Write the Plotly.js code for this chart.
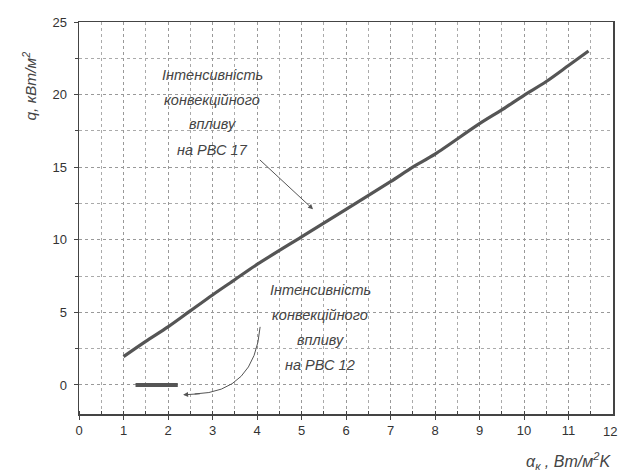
<!DOCTYPE html>
<html>
<head>
<meta charset="utf-8">
<script src="https://cdn.plot.ly/plotly-3.0.1.min.js"></script>
<style>body{margin:0;background:#fff}#chart{width:619px;height:476px}</style>
</head>
<body>
<div id="chart"></div>
<script>
// RBC 17 convective intensity curve
const alphaRBC17 = [1.0, 1.5, 2.0, 2.5, 3.0, 3.5, 4.0, 5.0, 6.0, 7.0, 7.5, 8.0, 9.0, 9.5, 10.0, 10.5, 11.0, 11.45];
const qRBC17     = [1.95, 3.0, 4.0, 5.1, 6.2, 7.25, 8.3, 10.2, 12.1, 14.0, 15.0, 15.9, 18.0, 18.95, 19.95, 20.9, 22.0, 23.0];
// RBC 12 convective intensity (short segment)
const alphaRBC12 = [1.27, 2.22];
const qRBC12     = [0, 0];
const xTickVals = [0,1,2,3,4,5,6,7,8,9,10,11];
const xLastTick = 12;
const yTickVals = [0,5,10,15,20,25];
const label17 = ['Інтенсивність', 'конвекційного', 'впливу', 'на РВС 17'];
const label12 = ['Інтенсивність', 'конвекційного', 'впливу', 'на РВС 12'];

const ink = '#444';
const traces = [
  {x: alphaRBC17, y: qRBC17, mode: 'lines', line: {color: '#555', width: 3.2, shape: 'spline', smoothing: 0.8}, hoverinfo: 'skip'},
  {x: alphaRBC12, y: qRBC12, mode: 'lines', line: {color: '#555', width: 4}, hoverinfo: 'skip'}
];

const txtFont = {family: 'Liberation Sans, Arial, sans-serif', size: 14.5, color: ink, style: 'italic'};
const tickFont = {family: 'Liberation Sans, Arial, sans-serif', size: 13, color: '#333'};
const annotations = [];
const block17Y = [21.35, 19.6, 18.0, 16.2];
label17.forEach((t, i) => annotations.push({x: 2.99, y: block17Y[i], xref: 'x', yref: 'y', text: t, showarrow: false, font: txtFont}));
const block12Y = [6.55, 4.8, 3.1, 1.4];
label12.forEach((t, i) => annotations.push({x: 5.42, y: block12Y[i], xref: 'x', yref: 'y', text: t, showarrow: false, font: txtFont}));
// straight arrow for RBC 17
annotations.push({x: 5.26, y: 12.1, ax: 4.03, ay: 15.6, xref: 'x', yref: 'y', axref: 'x', ayref: 'y', text: '', showarrow: true, arrowhead: 2, arrowsize: 1, arrowwidth: 1, arrowcolor: '#555'});
// arrow head for RBC 12 curved arrow
annotations.push({x: 2.34, y: -0.68, ax: 2.75, ay: -0.6, xref: 'x', yref: 'y', axref: 'x', ayref: 'y', text: '', showarrow: true, arrowhead: 2, arrowsize: 1, arrowwidth: 1, arrowcolor: '#555'});
// last x tick label at the page edge
annotations.push({xref: 'paper', x: 1, xanchor: 'right', xshift: 6, yref: 'paper', y: 0, yanchor: 'top', yshift: -8, text: String(xLastTick), showarrow: false, font: tickFont});
// axis titles
annotations.push({xref: 'paper', yref: 'paper', x: -0.115, y: 0.93, text: 'q, кВт/м<sup>2</sup>', textangle: -90, showarrow: false,
  font: {family: 'Liberation Sans, Arial, sans-serif', size: 15.5, color: ink, style: 'italic'}});
annotations.push({xref: 'paper', yref: 'paper', x: 1.0, xanchor: 'right', y: -0.12, yanchor: 'middle', text: 'α<sub>к</sub> , Вт/м<sup>2</sup>K', showarrow: false,
  font: {family: 'Liberation Sans, Arial, sans-serif', size: 16, color: ink, style: 'italic'}});

const shapes = [
  {type: 'path', xref: 'x', yref: 'y', path: 'M 4.07 4.0 Q 3.95 -0.5 2.6 -0.62', line: {color: '#555', width: 1}}
];

const axisCommon = {
  showline: true, linecolor: ink, linewidth: 1.5, mirror: true,
  ticks: 'outside', ticklen: 4, tickcolor: ink,
  showgrid: true, gridcolor: '#999', griddash: 'dot', gridwidth: 1,
  zeroline: false,
  tickfont: tickFont
};

const layout = {
  width: 619, height: 476,
  margin: {l: 79, r: 6, t: 22, b: 62},
  paper_bgcolor: '#fff', plot_bgcolor: '#fff',
  showlegend: false,
  xaxis: Object.assign({}, axisCommon, {range: [0, 12], tickvals: xTickVals,
    minor: {dtick: 0.5, ticks: 'inside', ticklen: 3, tickcolor: ink, showgrid: true, gridcolor: '#aaa', griddash: 'dot'}}),
  yaxis: Object.assign({}, axisCommon, {range: [-2, 25], tickvals: yTickVals, ticklabelstandoff: 4,
    minor: {dtick: 2.5, tick0: 0, ticks: 'outside', ticklen: 3, tickcolor: ink, showgrid: true, gridcolor: '#aaa', griddash: 'dot'}}),
  annotations: annotations,
  shapes: shapes
};

Plotly.newPlot('chart', traces, layout, {staticPlot: true, displayModeBar: false});
</script>
</body>
</html>
